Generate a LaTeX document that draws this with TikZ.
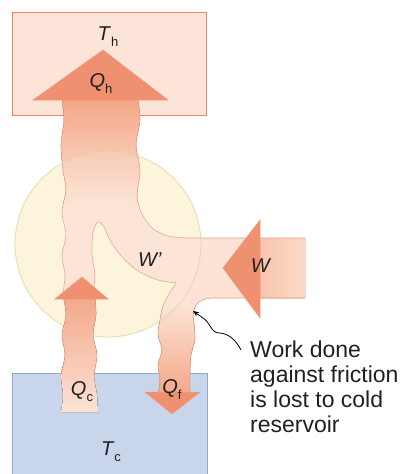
\documentclass[tikz,border=0pt]{standalone}
\usepackage{fontspec}
\setmainfont{Liberation Sans}
\usetikzlibrary{arrows.meta}
\definecolor{hotFill}{HTML}{FCE4D8}
\definecolor{hotLine}{HTML}{E9876D}
\definecolor{coldFill}{HTML}{C9D5EA}
\definecolor{coldLine}{HTML}{93A6CC}
\definecolor{engFill}{HTML}{FDF4DC}
\definecolor{engLine}{HTML}{D6D6A0}
\definecolor{bandFill}{HTML}{FCE3D5}
\definecolor{bandLine}{HTML}{E99C82}
\definecolor{headFill}{HTML}{EF9170}
\definecolor{shaftDark}{HTML}{F4A789}
\definecolor{shaftMid}{HTML}{F8C4AB}
\definecolor{labelInk}{HTML}{231F20}
\newcommand{\heatlab}[2]{\textit{#1}\raisebox{-0.3em}{\fontsize{13}{13}\selectfont #2}}
\newcommand{\flowband}{(305,298) -- (214,298) .. controls (200,298) and (194,304) .. (193,315)
    -- plot[smooth] coordinates {(193,315) (195,338) (191,355) (190,372) (190,394)}
    -- (158,394)
    -- plot[smooth] coordinates {(158,394) (160,380) (158,365) (162,350) (158,335) (160,320) (164,303) (176,283)}
    -- plot[smooth] coordinates {(176,283) (158,280) (138,271) (123,258) (111,242) (104,227) (98,222) (93,232) (92,255) (95,275) (93,293)}
    -- (63,293)
    -- plot[smooth] coordinates {(63,293) (65,275) (62,255) (66,235) (62,212) (66,190) (63,170) (61,145) (64,120) (62,100)}
    -- (138,100)
    -- plot[smooth] coordinates {(138,100) (140,120) (136,145) (140,170) (137,195) (141,212) (152,228) (168,236) (186,238)}
    -- (305,238)}

\begin{document}
\begin{tikzpicture}[x=1pt, y=-1pt,
    reservoir/.style={line width=1pt},
    head/.style={fill=headFill, draw=bandLine, line width=0.5pt},
    lab/.style={text=labelInk, font=\fontsize{20}{24}\selectfont, inner sep=0pt},
    note/.style={text=labelInk, font=\fontsize{23}{25}\selectfont, align=left, inner sep=0pt},
    squiggle/.style={line width=0.8pt, -{Stealth[length=6pt, width=5pt]}}
]
    \useasboundingbox (0,0) rectangle (404,474);

    \filldraw[reservoir, fill=hotFill, draw=hotLine] (12,12) rectangle (206,115);
    \filldraw[reservoir, fill=coldFill, draw=coldLine] (12,373) rectangle (207,480);
    \fill[engFill] (108,244) circle (93);

    \fill[bandFill] \flowband -- cycle;
    \begin{scope}
        \clip \flowband -- cycle;
        \fill[top color=shaftDark, bottom color=bandFill] (50,100) rectangle (150,205);
        \fill[top color=bandFill, bottom color=shaftDark] (150,305) rectangle (200,394);
        \fill[left color=shaftMid, right color=bandFill!70!shaftMid] (258,236) rectangle (306,300);
    \end{scope}
    \draw[bandLine, line width=0.6pt] \flowband;
    \filldraw[fill=engFill, fill opacity=0.15, draw=engLine, draw opacity=0.8, line width=0.8pt] (108,244) circle (93);

    \fill[top color=shaftDark, middle color=shaftDark!80!bandFill, bottom color=bandFill]
        plot[smooth] coordinates {(63,296) (66,315) (62,335) (65,355) (61,375) (63,395) (61,412)}
        -- plot[smooth] coordinates {(98,412) (97,395) (94,375) (97,355) (93,335) (96,315) (95,296)} -- cycle;
    \draw[bandLine, line width=0.5pt] plot[smooth] coordinates {(63,296) (66,315) (62,335) (65,355) (61,375)};
    \draw[bandLine, line width=0.5pt] plot[smooth] coordinates {(95,296) (96,315) (93,335) (97,355) (94,375)};

    \filldraw[head] (33,100) -- (103,50) -- (168,100) -- cycle;
    \filldraw[head] (55,299) -- (82,277) -- (108,299) -- cycle;
    \filldraw[head] (145,392) -- (200,392) -- (172,414) -- cycle;
    \filldraw[head] (260,220) -- (223,268) -- (260,318) -- cycle;

    \node[lab] (th) at (108,37) {\heatlab{T}{h}};
    \node[lab] (qh) at (101,84) {\heatlab{Q}{h}};
    \node[lab] (wp) at (150,260) {\textit{W’}};
    \node[lab] (w) at (261,266) {\textit{W}};
    \node[lab] (qc) at (82,392) {\heatlab{Q}{c}};
    \node[lab] (qf) at (172,390) {\heatlab{Q}{f}};
    \node[lab] (tc) at (111,452) {\heatlab{T}{c}};

    \node[note, anchor=north west] (note) at (250,341) {Work done\\against friction\\is lost to cold\\reservoir};
    \coordinate (tail) at (241,350);
    \coordinate (fric) at (193,311);
    \draw[squiggle] (tail) .. controls (236,340) and (228,333) .. (219,333)
        .. controls (211,333) and (210,322) .. (203,318) -- (fric);
\end{tikzpicture}
\end{document}
